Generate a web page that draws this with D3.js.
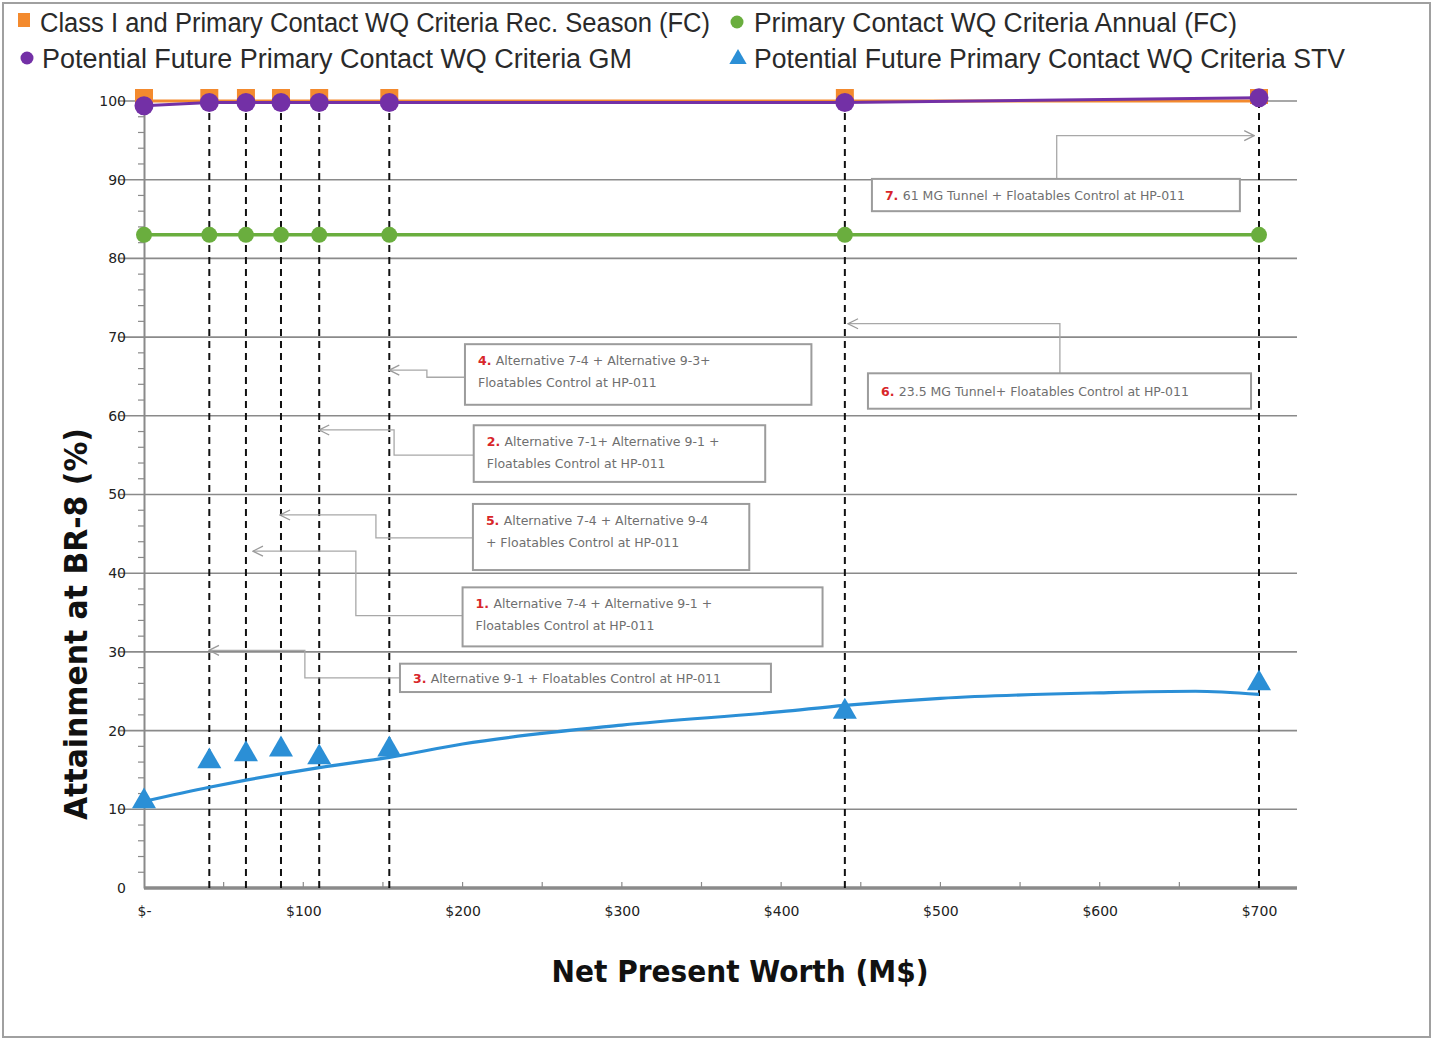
<!DOCTYPE html>
<html><head><meta charset="utf-8">
<script src="https://cdn.jsdelivr.net/npm/d3@7"></script>
<style>body{margin:0;background:#fff}</style>
</head><body><svg id="c" width="1432" height="1039"></svg>
<script>
// ---- data ----
const costs = [0, 41, 64, 86, 110, 154, 440, 700];
const recSeason = [100, 100, 100, 100, 100, 100, 100, 100];
const annual = [83, 83, 83, 83, 83, 83, 83, 83];
const futureGM = [99.4, 99.8, 99.8, 99.8, 99.8, 99.8, 99.8, 100.4];
const futureSTV = [11, 16.1, 17, 17.6, 16.6, 17.6, 22.4, 26];
const trendCost = [0, 41, 64, 86, 110, 154, 200, 300, 400, 440, 500, 600, 660, 700];
const trendSTV = [11, 12.8, 13.7, 14.5, 15.3, 16.6, 18.3, 20.7, 22.4, 23.2, 24.1, 24.8, 25, 24.6];
const yTicks = [0, 10, 20, 30, 40, 50, 60, 70, 80, 90, 100];
const xTicks = [0, 100, 200, 300, 400, 500, 600, 700];
const xTickLabels = ["$-", "$100", "$200", "$300", "$400", "$500", "$600", "$700"];
const legendLabels = [
  "Class I and Primary Contact WQ Criteria Rec. Season (FC)",
  "Primary Contact WQ Criteria Annual (FC)",
  "Potential Future Primary Contact WQ Criteria GM",
  "Potential Future Primary Contact WQ Criteria STV"
];
const noteNums = ["7.", "6.", "4.", "2.", "5.", "1.", "3."];
const noteTexts = [
  ["61 MG Tunnel + Floatables Control at HP-011"],
  ["23.5 MG Tunnel+ Floatables Control at HP-011"],
  ["Alternative 7-4 + Alternative 9-3+", "Floatables Control at HP-011"],
  ["Alternative 7-1+ Alternative 9-1 +", "Floatables Control at HP-011"],
  ["Alternative 7-4 + Alternative 9-4", "+ Floatables Control at HP-011"],
  ["Alternative 7-4 + Alternative 9-1 +", "Floatables Control at HP-011"],
  ["Alternative 9-1 + Floatables Control at HP-011"]
];
// callout boxes in data units: [x0, x1, yTop, yBottom]
const noteBoxes = [
  [457, 688, 90.1, 86.0],
  [454.5, 695, 65.4, 60.9],
  [201.5, 419, 69.1, 61.4],
  [207, 390, 58.8, 51.6],
  [206.5, 380, 48.8, 40.4],
  [200, 426, 38.2, 30.7],
  [160.7, 393.6, 28.5, 24.9]
];
// connector paths in data units, ending at the arrow tip
const notePaths = [
  [[573, 90.1], [573, 95.6], [697, 95.6]],
  [[575, 65.4], [575, 71.7], [442, 71.7]],
  [[201.5, 64.9], [177.6, 64.9], [177.6, 65.8], [154, 65.8]],
  [[207, 55.0], [157, 55.0], [157, 58.2], [110, 58.2]],
  [[206.5, 44.5], [145.6, 44.5], [145.6, 47.4], [85.4, 47.4]],
  [[200, 34.6], [133, 34.6], [133, 42.8], [68.4, 42.8]],
  [[160.7, 26.7], [101, 26.7], [101, 30.2], [40.8, 30.2]]
];

// ---- drawing ----
const svg = d3.select("#c");
const W = 1432, H = 1039;
svg.append("rect").attr("x", 3).attr("y", 3).attr("width", W - 5).attr("height", H - 5)
  .attr("fill", "#fff").attr("stroke", "#a0a0a0").attr("stroke-width", 2);

const x = d3.scaleLinear().domain([0, 700]).range([144, 1259]);
const y = d3.scaleLinear().domain([0, 100]).range([888, 101]);
const plotRight = 1297;

const C = { orange: "#f38a2e", green: "#6aae3e", purple: "#7330a6", blue: "#2b8fd6" };

// gridlines
svg.append("g").selectAll("line").data(yTicks.filter(d => d > 0)).join("line")
  .attr("x1", 118).attr("x2", plotRight).attr("y1", d => y(d)).attr("y2", d => y(d))
  .attr("stroke", "#8a8a8a").attr("stroke-width", 1.6);

// y axis
const yAxis = svg.append("g").attr("transform", `translate(${x(0)},0)`)
  .call(d3.axisLeft(y).tickValues(yTicks).tickSize(0).tickPadding(18).tickFormat(d3.format("d")));
yAxis.select(".domain").attr("stroke", "#8a8a8a").attr("stroke-width", 2);
yAxis.selectAll("text").attr("font-family", "DejaVu Sans").attr("font-size", 14).attr("fill", "#222");
// y minor ticks
svg.append("g").selectAll("line").data(d3.range(0, 100, 2).filter(d => d % 10 !== 0)).join("line")
  .attr("x1", x(0) - 6).attr("x2", x(0)).attr("y1", d => y(d)).attr("y2", d => y(d))
  .attr("stroke", "#8a8a8a").attr("stroke-width", 1.2);

// x axis
const xAxis = svg.append("g").attr("transform", `translate(0,${y(0)})`)
  .call(d3.axisBottom(x).tickValues(xTicks).tickSize(0).tickPadding(18)
    .tickFormat((d, i) => xTickLabels[i]));
xAxis.select(".domain").remove();
xAxis.selectAll("text").attr("font-family", "DejaVu Sans").attr("font-size", 14).attr("fill", "#222");
svg.append("line").attr("x1", x(0)).attr("x2", plotRight).attr("y1", y(0)).attr("y2", y(0))
  .attr("stroke", "#8a8a8a").attr("stroke-width", 3.5);
svg.append("g").selectAll("line").data(d3.range(50, 750, 50)).join("line")
  .attr("x1", d => x(d)).attr("x2", d => x(d)).attr("y1", y(0) - 6).attr("y2", y(0))
  .attr("stroke", "#8a8a8a").attr("stroke-width", 1.2);

// dashed drop lines
svg.append("g").selectAll("line").data(costs.filter(d => d > 0)).join("line")
  .attr("x1", d => x(d)).attr("x2", d => x(d)).attr("y1", y(100)).attr("y2", y(0))
  .attr("stroke", "#111").attr("stroke-width", 2).attr("stroke-dasharray", "7,5");

// callouts
const defs = svg.append("defs");
defs.append("marker").attr("id", "arr").attr("viewBox", "0 0 12 12").attr("refX", 11).attr("refY", 6)
  .attr("markerWidth", 12).attr("markerHeight", 12).attr("markerUnits", "userSpaceOnUse").attr("orient", "auto")
  .append("path").attr("d", "M1,1 L11,6 L1,11").attr("fill", "none").attr("stroke", "#9a9a9a").attr("stroke-width", 1.3);
const lineGen = d3.line().x(d => x(d[0])).y(d => y(d[1]));
const notes = svg.append("g");
noteBoxes.forEach((b, i) => {
  notes.append("path").attr("d", lineGen(notePaths[i])).attr("fill", "none")
    .attr("stroke", "#a8a8a8").attr("stroke-width", 1.3).attr("marker-end", "url(#arr)");
  notes.append("rect").attr("x", x(b[0])).attr("y", y(b[2]))
    .attr("width", x(b[1]) - x(b[0])).attr("height", y(b[3]) - y(b[2]))
    .attr("fill", "#fff").attr("stroke", "#9c9c9c").attr("stroke-width", 2);
  const lines = noteTexts[i];
  const h = y(b[3]) - y(b[2]);
  const y0 = lines.length === 1 ? y(b[2]) + h / 2 + 5 : y(b[2]) + 21;
  lines.forEach((t, j) => {
    const tx = notes.append("text").attr("x", x(b[0]) + 13).attr("y", y0 + j * 22)
      .attr("font-family", "DejaVu Sans").attr("font-size", 12.5).attr("fill", "#6f6f6f");
    if (j === 0) {
      tx.append("tspan").attr("fill", "#d8262a").attr("font-weight", "bold").text(noteNums[i] + " ");
    }
    tx.append("tspan").text(t);
  });
});

// series
const pts = arr => costs.map((c, i) => [c, arr[i]]);
const line = d3.line().x(d => x(d[0])).y(d => y(d[1]));

// trend line (STV)
svg.append("path").attr("d", d3.line().curve(d3.curveMonotoneX).x(d => x(d[0])).y(d => y(d[1]))(trendCost.map((c, i) => [c, trendSTV[i]])))
  .attr("fill", "none").attr("stroke", C.blue).attr("stroke-width", 3.2);

// green annual
svg.append("path").attr("d", line(pts(annual))).attr("fill", "none").attr("stroke", C.green).attr("stroke-width", 3.5);
svg.append("g").selectAll("circle").data(pts(annual)).join("circle")
  .attr("cx", d => x(d[0])).attr("cy", d => y(d[1])).attr("r", 8).attr("fill", C.green);

// orange rec season
svg.append("path").attr("d", line(pts(recSeason))).attr("fill", "none").attr("stroke", C.orange).attr("stroke-width", 3);
svg.append("g").selectAll("rect").data(pts(recSeason)).join("rect")
  .attr("x", d => x(d[0]) - 9).attr("y", d => y(d[1]) - 12).attr("width", 18).attr("height", 15).attr("fill", C.orange);

// purple GM
svg.append("path").attr("d", line(pts(futureGM))).attr("fill", "none").attr("stroke", C.purple).attr("stroke-width", 3);
svg.append("g").selectAll("circle").data(pts(futureGM)).join("circle")
  .attr("cx", d => x(d[0])).attr("cy", d => y(d[1])).attr("r", 9.5).attr("fill", C.purple);

// blue triangles
const tri = d3.symbol().type(d3.symbolTriangle).size(250);
svg.append("g").selectAll("path").data(pts(futureSTV)).join("path")
  .attr("transform", d => `translate(${x(d[0])},${y(d[1])})`).attr("d", tri).attr("fill", C.blue);

// legend
const lg = svg.append("g").attr("font-family", "Liberation Sans").attr("font-size", 27).attr("fill", "#2a2a2a");
const legPos = [[40, 32, 670], [754, 32, 483], [42, 68, 590], [754, 68, 591]];
legendLabels.forEach((t, i) => {
  lg.append("text").attr("x", legPos[i][0]).attr("y", legPos[i][1]).attr("textLength", legPos[i][2])
    .attr("lengthAdjust", "spacingAndGlyphs").text(t);
});
lg.append("rect").attr("x", 18).attr("y", 13).attr("width", 12).attr("height", 14).attr("fill", C.orange);
lg.append("circle").attr("cx", 737).attr("cy", 22).attr("r", 6.5).attr("fill", C.green);
lg.append("circle").attr("cx", 27).attr("cy", 58).attr("r", 6.5).attr("fill", C.purple);
lg.append("path").attr("transform", "translate(738,59)").attr("d", d3.symbol().type(d3.symbolTriangle).size(130)).attr("fill", C.blue);

// axis titles
svg.append("text").attr("x", 740).attr("y", 982).attr("text-anchor", "middle")
  .attr("font-family", "DejaVu Sans").attr("font-weight", "bold").attr("font-size", 30)
  .attr("textLength", 377).attr("lengthAdjust", "spacingAndGlyphs").attr("fill", "#111")
  .text("Net Present Worth (M$)");
svg.append("text").attr("transform", "translate(87,624) rotate(-90)").attr("text-anchor", "middle")
  .attr("font-family", "DejaVu Sans").attr("font-weight", "bold").attr("font-size", 32)
  .attr("textLength", 392).attr("lengthAdjust", "spacingAndGlyphs").attr("fill", "#111")
  .text("Attainment at BR-8 (%)");
</script></body></html>
